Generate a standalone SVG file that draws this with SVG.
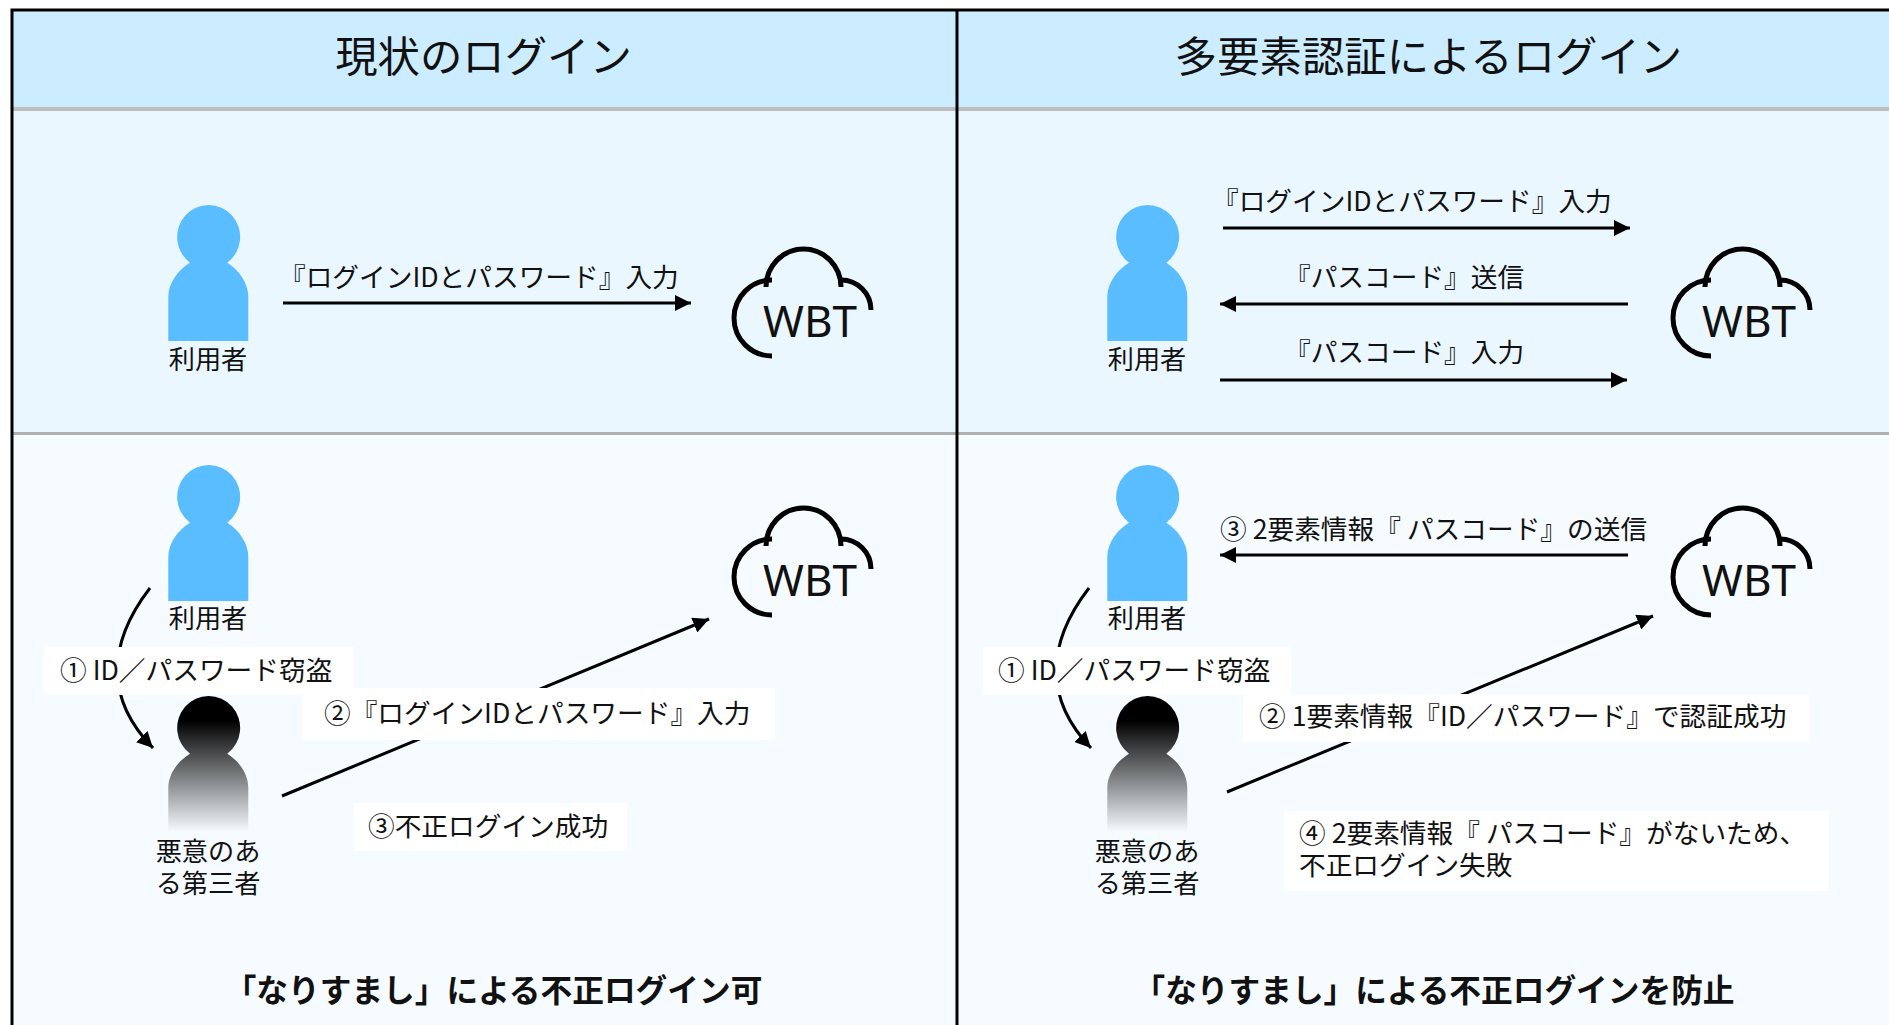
<svg xmlns="http://www.w3.org/2000/svg" xmlns:xlink="http://www.w3.org/1999/xlink" width="1889" height="1025" viewBox="0 0 1889 1025">
<style>
text{font-family:"Noto Sans CJK JP","Noto Sans",sans-serif;fill:#111;}
.t{font-size:42.4px;text-anchor:middle}
.l{font-size:26.700px}
.n{font-size:26.200px;text-anchor:middle}
.b{font-size:31.700px;font-weight:700;text-anchor:middle}
.w{font-family:"Noto Sans",sans-serif;font-size:44px;text-anchor:middle}
.c{fill:none;stroke:#000;stroke-width:3}
.cl{fill:none;stroke:#000;stroke-width:5}
.box{fill:#fff}
.g{stroke:#bdbdbd;stroke-width:4;fill:none}
</style>
<defs>
<marker id="a" markerUnits="userSpaceOnUse" markerWidth="18" markerHeight="16" refX="16" refY="8" orient="auto"><path d="M0 0L16 8L0 16Z" fill="#000"/></marker>
<linearGradient id="dark" gradientUnits="objectBoundingBox" x1="0" y1="0" x2="0" y2="1"><stop offset="0.18" stop-color="#000"/><stop offset="1" stop-color="#000" stop-opacity="0"/></linearGradient>
<path id="p" d="M168.300 341V297C168.300 283 178 270 190 262.700A31.500 32 0 1 1 227.300 262.700C239 270 248.300 283 248.300 297V341Z"/>
<g id="cloud" class="cl"><path d="M772 280A38 38 0 0 0 772 356"/><path d="M766 287A37.500 38 0 0 1 841 287"/><path d="M841 280A30 30 0 0 1 871 310"/></g>
</defs>
<rect width="1889" height="1025" fill="#fff"/>
<g id="background">
<rect x="12" y="10" width="1877" height="98" fill="#ccecff"/>
<rect x="12" y="108" width="1877" height="325" fill="#eaf7ff"/>
<rect x="12" y="433" width="1877" height="592" fill="#f6fbff"/>
<path class="g" d="M12 109H1889"/>
<path d="M12 433.500H1889" stroke="#b0b0b0" stroke-width="3"/>
<path d="M12 1025V10H1889M957 10V1025" fill="none" stroke="#000" stroke-width="3"/>
</g>
<g id="titles">
<text class="t" x="483.500" y="72">現状のログイン</text>
<text class="t" x="1428.500" y="72">多要素認証によるログイン</text>
<text class="b" x="493.500" y="1002">「なりすまし」による不正ログイン可</text>
<text class="b" x="1434" y="1002">「なりすまし」による不正ログインを防止</text>
</g>
<g id="connectors">
<path class="c" marker-end="url(#a)" d="M283 303H691"/>
<path class="c" marker-end="url(#a)" d="M1223 228H1630"/>
<path class="c" marker-end="url(#a)" d="M1628 304H1220"/>
<path class="c" marker-end="url(#a)" d="M1220 380H1627"/>
<path class="c" marker-end="url(#a)" d="M1628 555H1220"/>
<path class="c" marker-end="url(#a)" d="M282 796L709 619"/>
<path class="c" marker-end="url(#a)" d="M1227 792L1653 616"/>
<path class="c" marker-end="url(#a)" d="M150 588C106 645 106 700 153 748"/>
<path class="c" marker-end="url(#a)" d="M1089 588C1045 645 1045 700 1091 748"/>
</g>
<g id="conn-labels">
<text class="l" x="279" y="287">『ログインIDとパスワード』入力</text>
<text class="l" x="1212" y="211">『ログインIDとパスワード』入力</text>
<text class="l" x="1284" y="287">『パスコード』送信</text>
<text class="l" x="1284" y="362">『パスコード』入力</text>
<text class="l" x="1220" y="539">③ 2要素情報『 パスコード』の送信</text>
<rect class="box" x="44" y="647" width="310" height="48"/>
<text class="l" x="60" y="680">① ID／パスワード窃盗</text>
<rect class="box" x="302" y="688" width="473" height="52"/>
<text class="l" x="324" y="723">②『ログインIDとパスワード』入力</text>
<rect class="box" x="354" y="803" width="273" height="48"/>
<text class="l" x="368" y="836">③不正ログイン成功</text>
<rect class="box" x="983" y="647" width="308" height="48"/>
<text class="l" x="998" y="680">① ID／パスワード窃盗</text>
<rect class="box" x="1243" y="694" width="567" height="48"/>
<text class="l" x="1259" y="726">② 1要素情報『ID／パスワード』で認証成功</text>
<rect class="box" x="1284" y="811" width="545" height="80"/>
<text class="l" x="1299" y="843">④ 2要素情報『 パスコード』がないため、</text>
<text class="l" x="1299" y="875">不正ログイン失敗</text>
</g>
<g id="user-1"><use xlink:href="#p" fill="#5abdff"/><text class="n" x="208" y="369">利用者</text></g>
<g id="wbt-1"><use xlink:href="#cloud"/><text class="w" x="810" y="337">WBT</text></g>
<g id="user-2" transform="translate(939 0)"><use xlink:href="#p" fill="#5abdff"/><text class="n" x="208" y="369">利用者</text></g>
<g id="wbt-2" transform="translate(939 0)"><use xlink:href="#cloud"/><text class="w" x="810" y="337">WBT</text></g>
<g id="user-3" transform="translate(0 260)"><use xlink:href="#p" fill="#5abdff"/><text class="n" x="208" y="368">利用者</text></g>
<g id="wbt-3" transform="translate(0 259)"><use xlink:href="#cloud"/><text class="w" x="810" y="337">WBT</text></g>
<g id="user-4" transform="translate(939 260)"><use xlink:href="#p" fill="#5abdff"/><text class="n" x="208" y="368">利用者</text></g>
<g id="wbt-4" transform="translate(939 259)"><use xlink:href="#cloud"/><text class="w" x="810" y="337">WBT</text></g>
<g id="attacker-1"><g transform="translate(0 491)"><use xlink:href="#p" fill="url(#dark)"/></g><text class="n" x="208" y="861">悪意のあ</text><text class="n" x="208" y="893">る第三者</text></g>
<g id="attacker-2" transform="translate(939 0)"><g transform="translate(0 491)"><use xlink:href="#p" fill="url(#dark)"/></g><text class="n" x="208" y="861">悪意のあ</text><text class="n" x="208" y="893">る第三者</text></g>
</svg>
